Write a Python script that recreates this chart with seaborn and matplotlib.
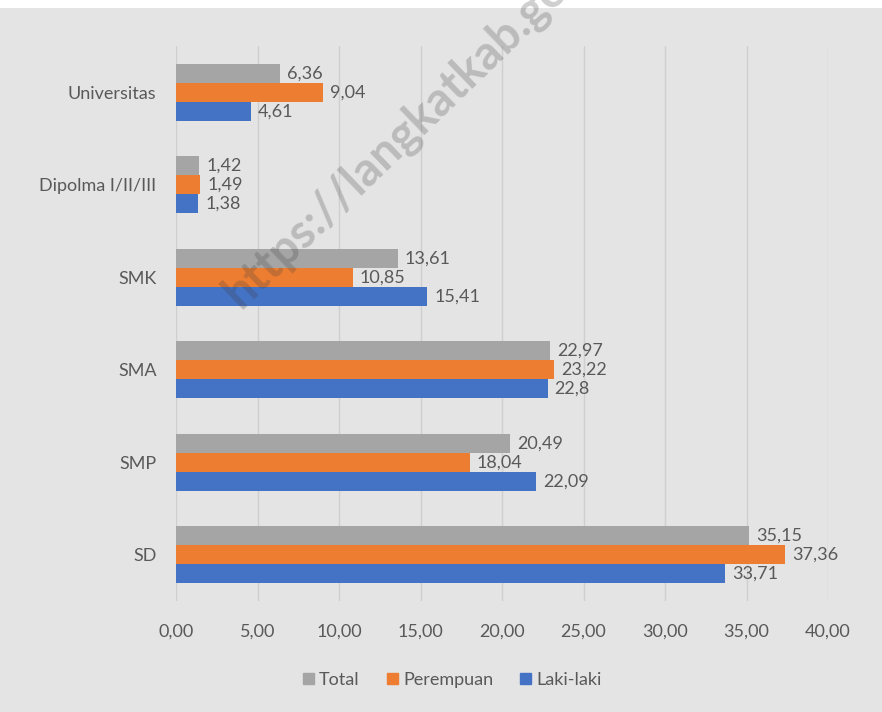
import pandas as pd
import seaborn as sns
import matplotlib.pyplot as plt
from matplotlib.patches import Rectangle

sns.set_theme(style='white')
plt.rcParams['font.family'] = ['Lato', 'DejaVu Sans']

categories = ['Universitas', 'Dipolma I/II/III', 'SMK', 'SMA', 'SMP', 'SD']
series = ['Total', 'Perempuan', 'Laki-laki']
total = [6.36, 1.42, 13.61, 22.97, 20.49, 35.15]
perempuan = [9.04, 1.49, 10.85, 23.22, 18.04, 37.36]
laki = [4.61, 1.38, 15.41, 22.8, 22.09, 33.71]
xticks = [0, 5, 10, 15, 20, 25, 30, 35, 40]

colors = ['#a5a5a5', '#ed7d31', '#4472c4']
BG = '#e4e4e4'
TXT = '#595959'

df = pd.DataFrame({
    'kategori': categories * 3,
    'seri': [s for s in series for _ in categories],
    'nilai': total + perempuan + laki,
})

fig = plt.figure(figsize=(8.82, 7.12), dpi=100, facecolor='white')
fig.patches.append(Rectangle((0, 0), 1, 1 - 8 / 712, transform=fig.transFigure,
                             facecolor=BG, edgecolor='none', zorder=-10))
ax = fig.add_axes([176 / 882, 1 - 601 / 712, (828 - 176) / 882, (601 - 46) / 712])
ax.set_facecolor('none')

sns.barplot(data=df, x='nilai', y='kategori', hue='seri', order=categories,
            hue_order=series, palette=colors, orient='h', width=0.62,
            saturation=1, linewidth=0, ax=ax, legend=False, zorder=3)

vals = [total, perempuan, laki]
for cont, v in zip(ax.containers, vals):
    ax.bar_label(cont, labels=[str(x).replace('.', ',') for x in v], padding=5,
                 fontsize=13, color=TXT)

ax.set_xlim(0, 40)
ax.set_xticks(xticks)
ax.set_xticklabels([f'{t:.2f}'.replace('.', ',') for t in xticks], fontsize=13, color=TXT)
ax.tick_params(axis='y', labelsize=13, labelcolor=TXT, length=0, pad=14)
ax.tick_params(axis='x', length=0, pad=16)
ax.grid(axis='x', color='#cfcfcf', linewidth=1, zorder=0)
for s in ax.spines.values():
    s.set_visible(False)
ax.set_xlabel('')
ax.set_ylabel('')

handles = [Rectangle((0, 0), 1, 1, color=c) for c in colors]
fig.legend(handles, series, loc='center', bbox_to_anchor=(0.513, 1 - 680 / 712),
           ncol=3, frameon=False, fontsize=13, labelcolor=TXT, handlelength=0.6,
           handleheight=0.6, handletextpad=0.3, columnspacing=1.5)

fig.text(240 / 882, 1 - 310 / 712, 'https://langkatkab.go.id', rotation=44,
         rotation_mode='anchor', ha='left', va='baseline', fontsize=34,
         fontweight='bold', color='#404040', alpha=0.25)

fig.savefig('out.png', dpi=100, facecolor=fig.get_facecolor())
